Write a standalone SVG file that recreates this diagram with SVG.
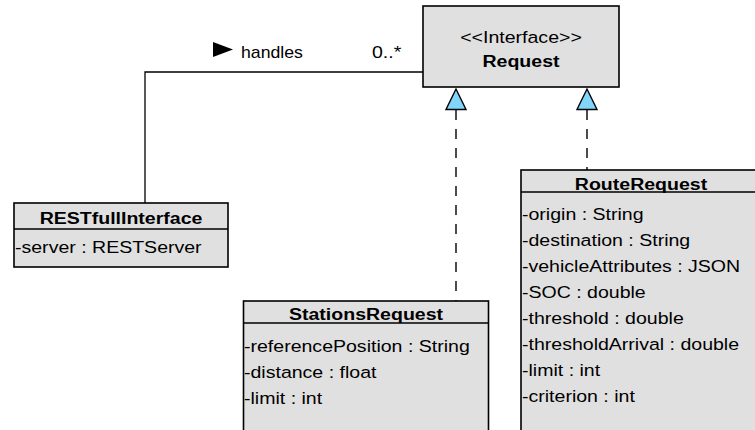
<svg xmlns="http://www.w3.org/2000/svg" width="755" height="430" viewBox="0 0 755 430">
<style>
  .box { fill: #e0e0e0; stroke: #000; stroke-width: 1.6; }
  .div { stroke: #000; stroke-width: 1.6; fill: none; }
  .t { font-family: "Liberation Sans", Arial, Helvetica, sans-serif; font-size: 17px; fill: #000; }
  .b { font-weight: bold; }
  .m { text-anchor: middle; }
  .assoc { stroke: #000; stroke-width: 1.3; fill: none; }
  .dash { stroke: #000; stroke-width: 1.4; fill: none; stroke-dasharray: 10 9; }
  .real { fill: #81d4fa; stroke: #000; stroke-width: 1.4; }
</style>
<rect width="755" height="430" fill="#fff"/>

<g id="connectors">
  <path class="assoc" d="M145,203 V72 H423"/>
  <polygon points="213,42 233,49.5 213,57" fill="#000"/>
  <text class="t" transform="translate(241 58) scale(1.04 1)">handles</text>
  <text class="t" transform="translate(372 58) scale(1.15 1)">0..*</text>
  <path class="dash" d="M456,110 V301"/>
  <polygon class="real" points="456,89 446,109.5 466,109.5"/>
  <path class="dash" d="M587,110 V170"/>
  <polygon class="real" points="587,89 577,109.5 597,109.5"/>
</g>

<g id="Request">
  <rect class="box" x="423" y="6" width="196" height="81"/>
  <text class="t m" transform="translate(521 43) scale(1.15 1)">&lt;&lt;Interface&gt;&gt;</text>
  <text class="t b m" transform="translate(521 67) scale(1.15 1)">Request</text>
</g>

<g id="RESTfullInterface">
  <rect class="box" x="14" y="203" width="214" height="64"/>
  <line class="div" x1="14" y1="229" x2="228" y2="229"/>
  <text class="t b m" transform="translate(121 224) scale(1.15 1)">RESTfullInterface</text>
  <text class="t" transform="translate(15 253) scale(1.15 1)">-server : RESTServer</text>
</g>

<g id="StationsRequest">
  <rect class="box" x="243.5" y="301" width="245" height="140"/>
  <line class="div" x1="243.5" y1="323" x2="488.5" y2="323"/>
  <text class="t b m" transform="translate(366 320) scale(1.15 1)">StationsRequest</text>
  <text class="t" transform="translate(244 352) scale(1.15 1)">-referencePosition : String</text>
  <text class="t" transform="translate(244 378) scale(1.15 1)">-distance : float</text>
  <text class="t" transform="translate(244 404) scale(1.15 1)">-limit : int</text>
</g>

<g id="RouteRequest">
  <rect class="box" x="521" y="170" width="240" height="270"/>
  <line class="div" x1="521" y1="192" x2="761" y2="192"/>
  <text class="t b m" transform="translate(641 190) scale(1.15 1)">RouteRequest</text>
  <text class="t" transform="translate(522 220) scale(1.15 1)">-origin : String</text>
  <text class="t" transform="translate(522 246) scale(1.15 1)">-destination : String</text>
  <text class="t" transform="translate(522 272) scale(1.15 1)">-vehicleAttributes : JSON</text>
  <text class="t" transform="translate(522 298) scale(1.15 1)">-SOC : double</text>
  <text class="t" transform="translate(522 324) scale(1.15 1)">-threshold : double</text>
  <text class="t" transform="translate(522 350) scale(1.15 1)">-thresholdArrival : double</text>
  <text class="t" transform="translate(522 376) scale(1.15 1)">-limit : int</text>
  <text class="t" transform="translate(522 402) scale(1.15 1)">-criterion : int</text>
</g>
</svg>
